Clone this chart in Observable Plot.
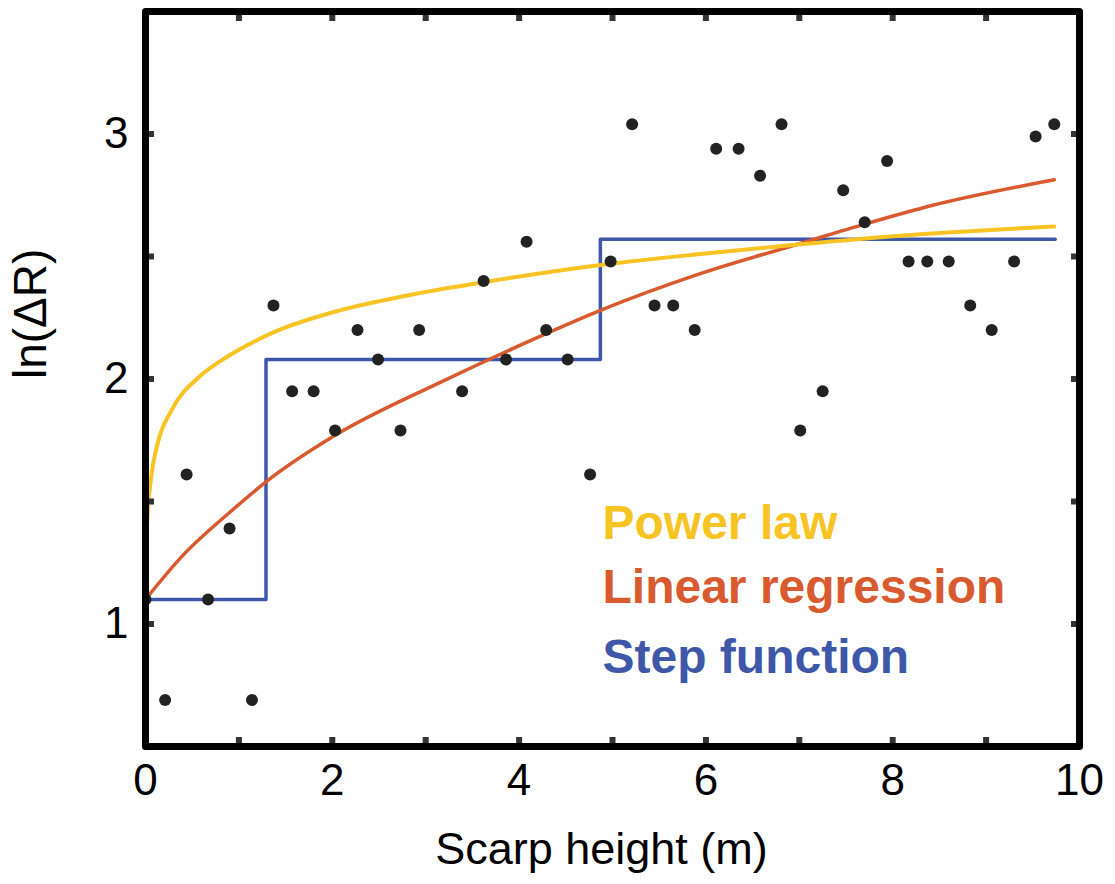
<!DOCTYPE html>
<html><head><meta charset="utf-8">
<script src="https://cdn.jsdelivr.net/npm/d3@7"></script>
<script src="https://cdn.jsdelivr.net/npm/@observablehq/plot@0.6"></script>
<style>body{margin:0;background:#fff}#chart{position:absolute;left:0;top:0}</style>
</head><body><div id="chart"></div>
<script>
// Observed data: scarp height (m) vs ln(ΔR)
const pointX = [0.00, 0.21, 0.44, 0.67, 0.90, 1.14, 1.37, 1.57, 1.80, 2.03, 2.27, 2.49, 2.73, 2.93, 3.39, 3.62, 3.86, 4.08, 4.29, 4.52, 4.76, 4.98, 5.21, 5.45, 5.65, 5.88, 6.11, 6.35, 6.58, 6.81, 7.01, 7.25, 7.47, 7.70, 7.94, 8.17, 8.37, 8.60, 8.83, 9.06, 9.30, 9.53, 9.73];
const pointY = [1.10, 0.69, 1.61, 1.10, 1.39, 0.69, 2.30, 1.95, 1.95, 1.79, 2.20, 2.08, 1.79, 2.20, 1.95, 2.40, 2.08, 2.56, 2.20, 2.08, 1.61, 2.48, 3.04, 2.30, 2.30, 2.20, 2.94, 2.94, 2.83, 3.04, 1.79, 1.95, 2.77, 2.64, 2.89, 2.48, 2.48, 2.48, 2.30, 2.20, 2.48, 2.99, 3.04];

// Power law fit curve
const powerX = [0, 0.005, 0.025, 0.061, 0.132, 0.275, 0.579, 0.83, 1.37, 2.08, 2.79, 3.62, 4.98, 5.94, 7.01, 8.08, 9.73];
const powerY = [1.12, 1.30, 1.46, 1.60, 1.74, 1.87, 2.01, 2.08, 2.19, 2.28, 2.34, 2.395, 2.47, 2.51, 2.55, 2.585, 2.622];

// Linear regression curve
const linX = [0, 0.40, 0.90, 1.29, 2.03, 3.15, 3.51, 4.29, 4.87, 5.94, 7.01, 7.70, 8.44, 9.73];
const linY = [1.10, 1.28, 1.455, 1.58, 1.77, 1.985, 2.05, 2.185, 2.28, 2.43, 2.553, 2.632, 2.71, 2.813];

// Step function
const stepX = [0, 1.29, 4.87, 9.74];
const stepY = [1.10, 2.08, 2.57, 2.57];

// Axes ticks
const xTickMarks = [1, 2, 3, 4, 5, 6, 7, 8, 9];
const xTickLabels = [0, 2, 4, 6, 8, 10];
const yTickMarks = [1, 1.5, 2, 2.5, 3];
const yTickLabels = [1, 2, 3];

const legendLabels = ["Power law", "Linear regression", "Step function"];
const legendColors = ["#F8C424", "#D85A2E", "#3E57A8"];

const points = pointX.map((x, i) => ({x, y: pointY[i]}));
const power = powerX.map((x, i) => ({x, y: powerY[i]}));
const lin = linX.map((x, i) => ({x, y: linY[i]}));
const step = stepX.map((x, i) => ({x, y: stepY[i]}));

const font = "'Liberation Sans', Arial, Helvetica, sans-serif";
const legendBaselines = [538, 602, 672];
const intFmt = d3.format("d");

const chart = Plot.plot({
  width: 1115,
  height: 884,
  marginLeft: 145,
  marginRight: 36,
  marginTop: 11,
  marginBottom: 138,
  x: {domain: [0, 10]},
  y: {domain: [0.5, 3.5]},
  style: {fontFamily: font, background: "#fff", color: "#000"},
  marks: [
    Plot.line(step, {x: "x", y: "y", curve: "step-after", stroke: legendColors[2], strokeWidth: 3.5}),
    Plot.line(lin, {x: "x", y: "y", curve: "monotone-x", stroke: legendColors[1], strokeWidth: 3.5}),
    Plot.line(power, {x: "x", y: "y", curve: "monotone-x", stroke: legendColors[0], strokeWidth: 4}),
    Plot.dot(points, {x: "x", y: "y", r: 6, fill: "#222", stroke: "none", clip: true}),
    ...legendLabels.map((t, i) => Plot.text([t], {
      frameAnchor: "top-left", dx: 457, dy: legendBaselines[i] - 11,
      text: d => d, textAnchor: "start", lineAnchor: "bottom",
      fontSize: 48, fontWeight: "bold", fill: legendColors[i]
    })),
    Plot.axisX(xTickMarks, {anchor: "bottom", tickSize: -9, strokeWidth: 6, stroke: "#333", tickFormat: () => "", label: null}),
    Plot.axisX(xTickMarks, {anchor: "top", tickSize: -9, strokeWidth: 6, stroke: "#333", tickFormat: () => "", label: null}),
    Plot.axisY(yTickMarks, {anchor: "left", tickSize: -9, strokeWidth: 6, stroke: "#333", tickFormat: () => "", label: null}),
    Plot.axisY(yTickMarks, {anchor: "right", tickSize: -9, strokeWidth: 6, stroke: "#333", tickFormat: () => "", label: null}),
    Plot.axisX(xTickLabels, {anchor: "bottom", tickSize: 0, tickPadding: 17, fontSize: 44, label: null, fill: "#000", tickFormat: intFmt}),
    Plot.axisY(yTickLabels, {anchor: "left", tickSize: 0, tickPadding: 17, fontSize: 44, label: null, fill: "#000", tickFormat: intFmt}),
    Plot.frame({stroke: "#000", strokeWidth: 7, strokeLinejoin: "round"}),
    Plot.text(["Scarp height (m)"], {frameAnchor: "bottom", text: d => d, dx: -11, dy: 117, lineAnchor: "bottom", fontSize: 45, fill: "#000"}),
    Plot.text(["ln(ΔR)"], {frameAnchor: "left", text: d => d, dx: -132, rotate: -90, lineAnchor: "top", fontSize: 46, fill: "#000"})
  ]
});
document.getElementById("chart").appendChild(chart);
</script>
</body></html>
